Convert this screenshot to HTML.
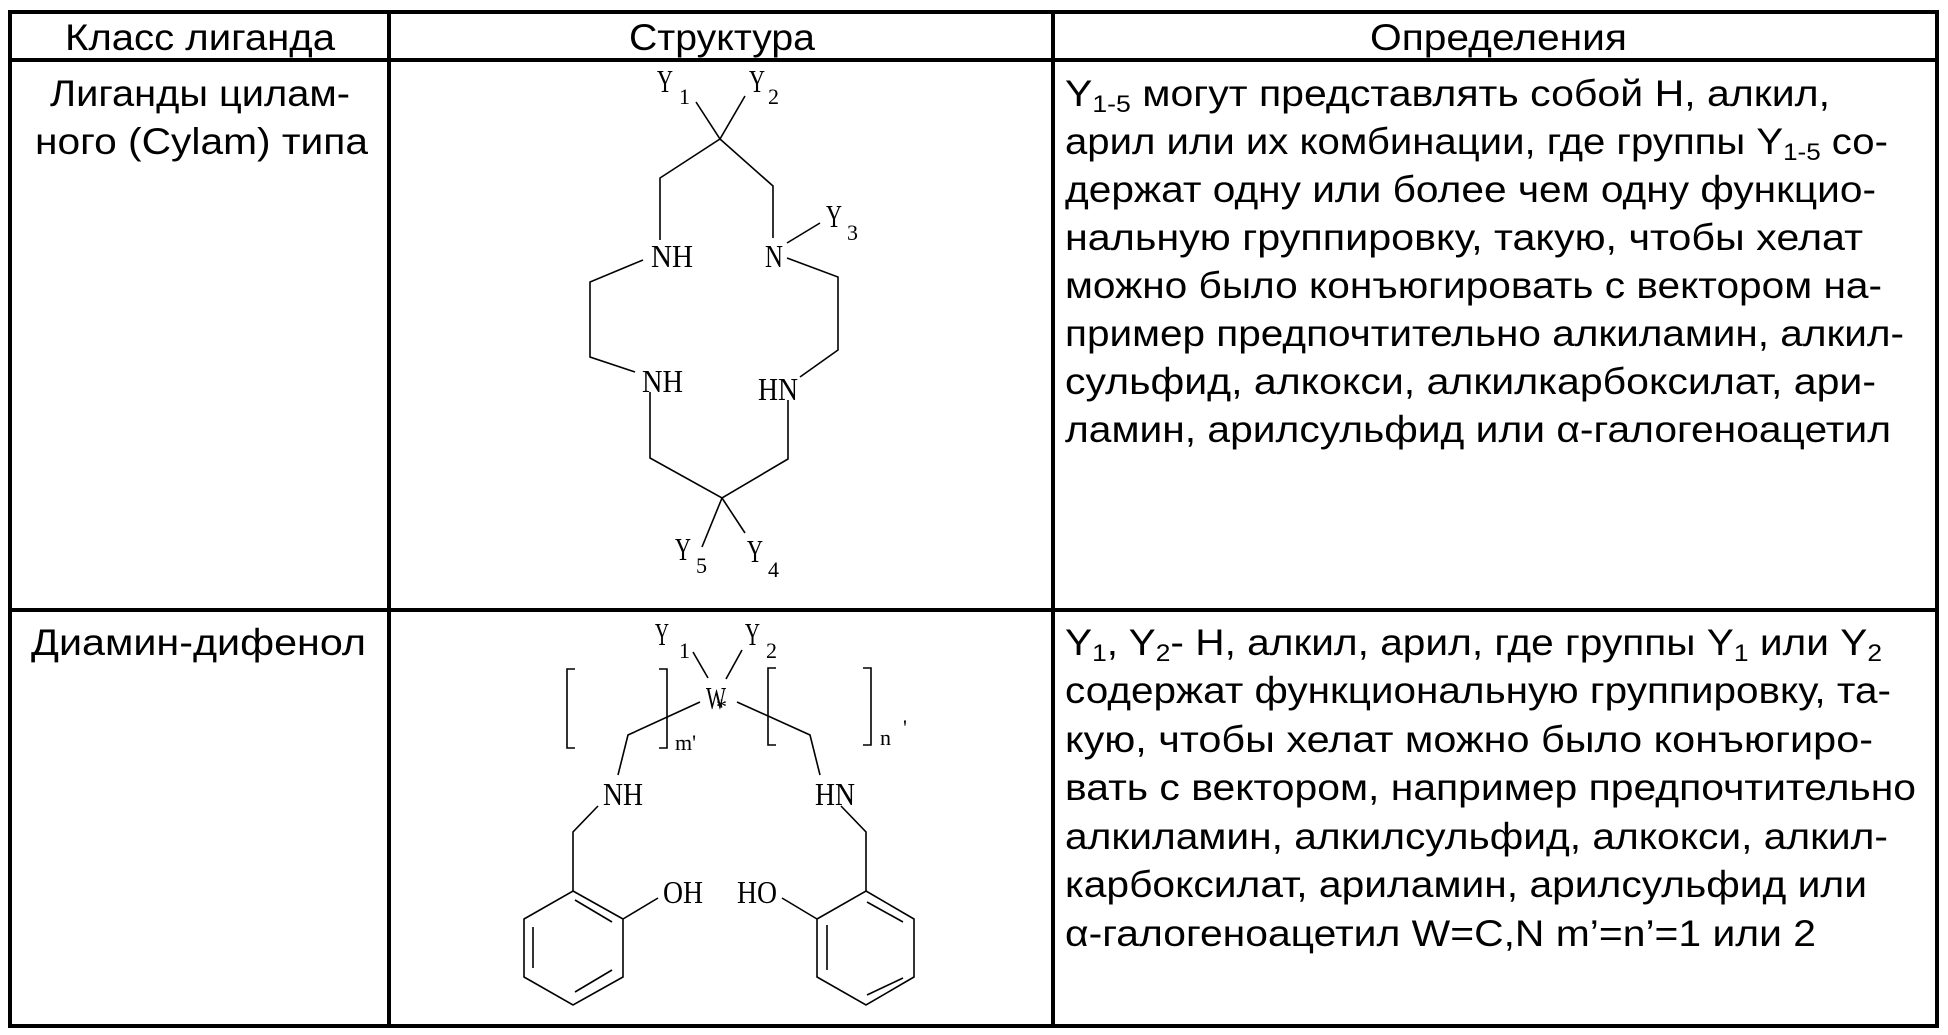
<!DOCTYPE html>
<html><head><meta charset="utf-8"><style>
html,body{margin:0;padding:0;background:#fff;}
svg{display:block;}
.t{font-family:"Liberation Sans",sans-serif;font-size:37px;fill:#000;}
.c{font-family:"Liberation Serif",serif;font-size:32px;fill:#000;}
.s{font-family:"Liberation Serif",serif;font-size:22px;fill:#000;}
</style></head><body>
<svg width="1948" height="1035" viewBox="0 0 1948 1035" xmlns="http://www.w3.org/2000/svg">
<g stroke="#000" stroke-width="4" fill="none">
<rect x="10" y="12" width="1927" height="1014"/>
<line x1="10" y1="60" x2="1937" y2="60"/>
<line x1="10" y1="610" x2="1937" y2="610"/>
<line x1="389" y1="12" x2="389" y2="1026"/>
<line x1="1053" y1="12" x2="1053" y2="1026"/>
</g>
<text class="t" x="65" y="50" textLength="270" lengthAdjust="spacingAndGlyphs">Класс лиганда</text>
<text class="t" x="629" y="50" textLength="186" lengthAdjust="spacingAndGlyphs">Структура</text>
<text class="t" x="1370" y="50" textLength="257" lengthAdjust="spacingAndGlyphs">Определения</text>
<text class="t" x="50" y="106" textLength="300" lengthAdjust="spacingAndGlyphs">Лиганды цилам-</text>
<text class="t" x="35" y="154" textLength="333" lengthAdjust="spacingAndGlyphs">ного (Cylam) типа</text>
<text class="t" x="31" y="655" textLength="335" lengthAdjust="spacingAndGlyphs">Диамин-дифенол</text>
<text class="t" x="1065" y="106" textLength="765" lengthAdjust="spacingAndGlyphs">Y<tspan font-size="24" dy="6">1-5</tspan><tspan dy="-6"> могут представлять собой Н, алкил,</tspan></text>
<text class="t" x="1065" y="154" textLength="823" lengthAdjust="spacingAndGlyphs">арил или их комбинации, где группы Y<tspan font-size="24" dy="6">1-5</tspan><tspan dy="-6"> со-</tspan></text>
<text class="t" x="1065" y="202" textLength="811" lengthAdjust="spacingAndGlyphs">держат одну или более чем одну функцио-</text>
<text class="t" x="1065" y="250" textLength="798" lengthAdjust="spacingAndGlyphs">нальную группировку, такую, чтобы хелат</text>
<text class="t" x="1065" y="298" textLength="817" lengthAdjust="spacingAndGlyphs">можно было конъюгировать с вектором на-</text>
<text class="t" x="1065" y="346" textLength="839" lengthAdjust="spacingAndGlyphs">пример предпочтительно алкиламин, алкил-</text>
<text class="t" x="1065" y="394" textLength="811" lengthAdjust="spacingAndGlyphs">сульфид, алкокси, алкилкарбоксилат, ари-</text>
<text class="t" x="1065" y="442" textLength="826" lengthAdjust="spacingAndGlyphs">ламин, арилсульфид или α-галогеноацетил</text>
<text class="t" x="1065" y="655" textLength="817" lengthAdjust="spacingAndGlyphs">Y<tspan font-size="24" dy="6">1</tspan><tspan dy="-6">, Y</tspan><tspan font-size="24" dy="6">2</tspan><tspan dy="-6">- Н, алкил, арил, где группы Y</tspan><tspan font-size="24" dy="6">1</tspan><tspan dy="-6"> или Y</tspan><tspan font-size="24" dy="6">2</tspan></text>
<text class="t" x="1065" y="703" textLength="826" lengthAdjust="spacingAndGlyphs">содержат функциональную группировку, та-</text>
<text class="t" x="1065" y="752" textLength="808" lengthAdjust="spacingAndGlyphs">кую, чтобы хелат можно было конъюгиро-</text>
<text class="t" x="1065" y="800" textLength="851" lengthAdjust="spacingAndGlyphs">вать с вектором, например предпочтительно</text>
<text class="t" x="1065" y="849" textLength="823" lengthAdjust="spacingAndGlyphs">алкиламин, алкилсульфид, алкокси, алкил-</text>
<text class="t" x="1065" y="897" textLength="802" lengthAdjust="spacingAndGlyphs">карбоксилат, ариламин, арилсульфид или</text>
<text class="t" x="1065" y="946" textLength="751" lengthAdjust="spacingAndGlyphs">α-галогеноацетил W=C,N m’=n’=1 или 2</text>

<g stroke="#000" stroke-width="1.6" fill="none">
<polyline points="696,102 720,139 745,96"/>
<polyline points="660,240 660,178 720,139 773,186 773,238"/>
<line x1="787" y1="243" x2="820" y2="223"/>
<polyline points="787,258 838,277 838,350 800,377"/>
<polyline points="788,400 788,459 722,498 650,458 650,392"/>
<polyline points="643,260 590,282 590,357 635,372"/>
<line x1="722" y1="498" x2="702" y2="547"/>
<line x1="722" y1="498" x2="745" y2="533"/>
</g>
<text class="c" x="657" y="92" textLength="16" lengthAdjust="spacingAndGlyphs">Y</text><text class="s" x="679" y="104">1</text>
<text class="c" x="749" y="92" textLength="16" lengthAdjust="spacingAndGlyphs">Y</text><text class="s" x="768" y="104">2</text>
<text class="c" x="826" y="227" textLength="16" lengthAdjust="spacingAndGlyphs">Y</text><text class="s" x="847" y="240">3</text>
<text class="c" x="651" y="267" textLength="42" lengthAdjust="spacingAndGlyphs">NH</text>
<text class="c" x="765" y="267" textLength="18" lengthAdjust="spacingAndGlyphs">N</text>
<text class="c" x="642" y="392" textLength="41" lengthAdjust="spacingAndGlyphs">NH</text>
<text class="c" x="758" y="400" textLength="40" lengthAdjust="spacingAndGlyphs">HN</text>
<text class="c" x="675" y="560" textLength="16" lengthAdjust="spacingAndGlyphs">Y</text><text class="s" x="696" y="573">5</text>
<text class="c" x="747" y="562" textLength="16" lengthAdjust="spacingAndGlyphs">Y</text><text class="s" x="768" y="577">4</text>

<g stroke="#000" stroke-width="1.6" fill="none">
<polyline points="575,669 567,669 567,748 575,748"/>
<polyline points="659,669 667,669 667,748 659,748"/>
<polyline points="776,668 768,668 768,745 776,745"/>
<polyline points="863,668 871,668 871,745 863,745"/>
<line x1="693" y1="652" x2="708" y2="678"/>
<line x1="742" y1="650" x2="726" y2="679"/>
<polyline points="700,702 628,735 618,775"/>
<polyline points="737,702 810,735 820,775"/>
<polyline points="598,806 573,832 573,891"/>
<polyline points="841,806 866,832 866,891"/>
<polygon points="573,891 623,919 623,977 573,1005 524,977 524,919"/>
<line x1="575" y1="900" x2="612" y2="922"/>
<line x1="533" y1="927" x2="533" y2="968"/>
<line x1="575" y1="992" x2="612" y2="970"/>
<line x1="623" y1="919" x2="658" y2="898"/>
<polygon points="866,891 914,919 914,977 866,1005 817,977 817,919"/>
<line x1="867" y1="902" x2="903" y2="922"/>
<line x1="827" y1="925" x2="827" y2="970"/>
<line x1="867" y1="995" x2="903" y2="978"/>
<line x1="817" y1="919" x2="782" y2="898"/>
</g>
<text class="c" x="655" y="645" textLength="14" lengthAdjust="spacingAndGlyphs">Y</text><text class="s" x="679" y="658">1</text>
<text class="c" x="745" y="645" textLength="15" lengthAdjust="spacingAndGlyphs">Y</text><text class="s" x="766" y="658">2</text>
<text class="c" x="706" y="709" textLength="20" lengthAdjust="spacingAndGlyphs">W</text>
<text class="s" x="716" y="714">*</text>
<text class="s" x="675" y="750">m'</text>
<text class="s" x="880" y="745">n</text><text class="s" x="903" y="735">'</text>
<text class="c" x="603" y="805" textLength="40" lengthAdjust="spacingAndGlyphs">NH</text>
<text class="c" x="815" y="805" textLength="40" lengthAdjust="spacingAndGlyphs">HN</text>
<text class="c" x="663" y="903" textLength="40" lengthAdjust="spacingAndGlyphs">OH</text>
<text class="c" x="737" y="903" textLength="40" lengthAdjust="spacingAndGlyphs">HO</text>
</svg>
</body></html>
